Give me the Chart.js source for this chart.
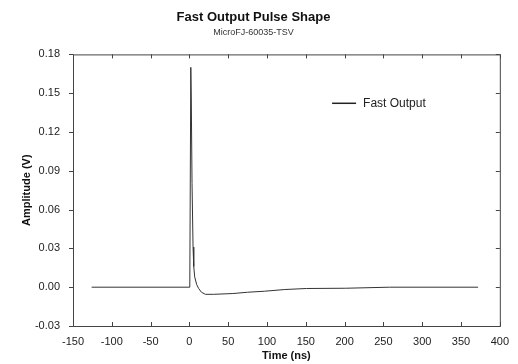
<!DOCTYPE html>
<html>
<head>
<meta charset="utf-8">
<script src="https://cdn.jsdelivr.net/npm/chart.js@4/dist/chart.umd.min.js"></script>
<style>
  body { margin: 0; background: #fff; }
  canvas { display: block; }
</style>
</head>
<body>
<canvas id="pulseChart" width="518" height="364"></canvas>
<script>
// values
const timeNs = [-126, 0.5, 1.8, 2.4, 3.4, 4.7, 5.6, 6.8, 9.4, 11.9, 15.7, 20.7, 31, 56, 75, 97, 123, 151, 201, 258, 372];
const amplitudeV = [0, 0, 0.170, 0.147, 0.080, 0.031, 0.016, 0.008, 0.002, -0.001, -0.004, -0.0055, -0.0055, -0.0049, -0.0039, -0.0031, -0.0018, -0.0010, -0.0008, 0, 0];
const xTicks = [-150, -100, -50, 0, 50, 100, 150, 200, 250, 300, 350, 400];
const yTicks = [-0.03, 0.00, 0.03, 0.06, 0.09, 0.12, 0.15, 0.18];
const seriesLabel = 'Fast Output';

const FONT = "'Liberation Sans', Arial, sans-serif";

// box around the plot with tick marks on all four sides
const framePlugin = {
    id: 'frame',
    afterDraw(chart) {
        const { ctx, chartArea: a, scales } = chart;
        ctx.save();
        ctx.strokeStyle = '#444';
        ctx.lineWidth = 1;
        ctx.strokeRect(a.left + 0.5, a.top + 0.5, a.right - a.left, a.bottom - a.top);
        ctx.beginPath();
        xTicks.forEach(v => {
            const px = Math.round(scales.x.getPixelForValue(v)) + 0.5;
            ctx.moveTo(px, a.bottom); ctx.lineTo(px, a.bottom - 4);
            ctx.moveTo(px, a.top); ctx.lineTo(px, a.top + 4);
        });
        yTicks.forEach(v => {
            const py = Math.round(scales.y.getPixelForValue(v)) + 0.5;
            ctx.moveTo(a.left - 4, py); ctx.lineTo(a.left, py);
            ctx.moveTo(a.right, py); ctx.lineTo(a.right - 4, py);
        });
        ctx.stroke();
        ctx.restore();
    }
};

// legend sits inside the plot, upper right
const legendPlugin = {
    id: 'innerLegend',
    afterDraw(chart) {
        const { ctx, chartArea: a } = chart;
        const w = a.right - a.left, h = a.bottom - a.top;
        const y = a.top + h * 0.18;
        const x0 = a.left + w * 0.607;
        ctx.save();
        ctx.strokeStyle = '#222';
        ctx.lineWidth = 1.5;
        ctx.beginPath();
        ctx.moveTo(x0, y);
        ctx.lineTo(x0 + 24, y);
        ctx.stroke();
        ctx.fillStyle = '#222';
        ctx.font = '12px ' + FONT;
        ctx.textBaseline = 'middle';
        ctx.fillText(seriesLabel, x0 + 31, y);
        ctx.restore();
    }
};

const ctx = document.getElementById('pulseChart').getContext('2d');
new Chart(ctx, {
    type: 'scatter',
    data: {
        datasets: [{
            label: seriesLabel,
            data: timeNs.map((t, i) => ({ x: t, y: amplitudeV[i] })),
            showLine: true,
            borderColor: '#333',
            borderWidth: 1,
            pointRadius: 0,
            tension: 0
        }]
    },
    options: {
        responsive: false,
        animation: false,
        devicePixelRatio: 1,
        layout: { padding: { left: 0, right: 11, top: 0, bottom: 0 } },
        plugins: {
            legend: { display: false },
            tooltip: { enabled: false },
            title: {
                display: true,
                text: 'Fast Output Pulse Shape',
                color: '#111',
                font: { family: FONT, size: 13, weight: 'bold' },
                padding: { top: 10, bottom: 0 }
            },
            subtitle: {
                display: true,
                text: 'MicroFJ-60035-TSV',
                color: '#333',
                font: { family: FONT, size: 9 },
                padding: { top: 2, bottom: 16 }
            }
        },
        scales: {
            x: {
                type: 'linear',
                min: -150,
                max: 400,
                afterBuildTicks: scale => { scale.ticks = xTicks.map(v => ({ value: v })); },
                afterFit: scale => { scale.height = 38; },
                grid: { display: false, drawTicks: false },
                border: { display: false },
                ticks: {
                    color: '#222',
                    padding: 9,
                    maxRotation: 0,
                    font: { family: FONT, size: 11 }
                },
                title: {
                    display: true,
                    text: 'Time (ns)',
                    color: '#111',
                    font: { family: FONT, size: 11, weight: 'bold' },
                    padding: { top: 0, bottom: 1 }
                }
            },
            y: {
                type: 'linear',
                min: -0.03,
                max: 0.18,
                afterBuildTicks: scale => { scale.ticks = yTicks.map(v => ({ value: v })); },
                afterFit: scale => { scale.width = 73; },
                grid: { display: false, drawTicks: false },
                border: { display: false },
                ticks: {
                    color: '#222',
                    padding: 13,
                    font: { family: FONT, size: 11 },
                    callback: v => v.toFixed(2)
                },
                title: {
                    display: true,
                    text: 'Amplitude (V)',
                    color: '#111',
                    font: { family: FONT, size: 11, weight: 'bold' },
                    padding: { top: 20, bottom: 0 }
                }
            }
        }
    },
    plugins: [framePlugin, legendPlugin]
});
</script>
</body>
</html>
